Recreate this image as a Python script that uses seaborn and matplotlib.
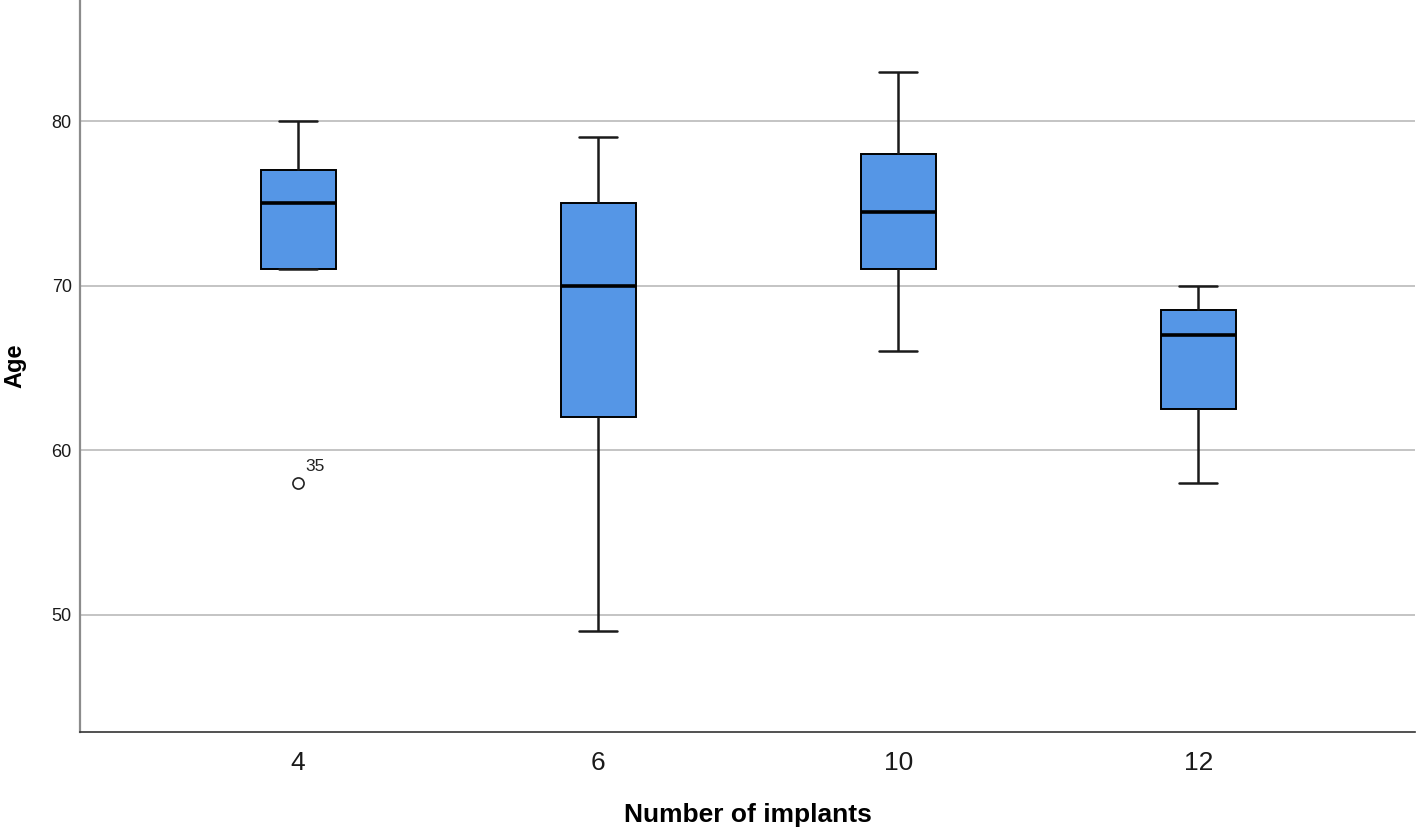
"""
Boxplot of patient age by number of implants (SPSS-style figure)
"""

import pandas as pd
import matplotlib.pyplot as plt
import seaborn as sns

# Values: each group's points (whisker ends, quartiles, median, outlier)
implants = ["4", "6", "10", "12"]
ages_4 = [58, 71, 71, 75, 77, 77, 80]
ages_6 = [49, 62, 70, 75, 79]
ages_10 = [66, 71, 74.5, 78, 83]
ages_12 = [58, 62.5, 67, 68.5, 70]
outlier_label = "35"
outlier_age = 58

groups = [ages_4, ages_6, ages_10, ages_12]
df = pd.DataFrame({
    "implants": [k for k, g in zip(implants, groups) for _ in g],
    "age": [v for g in groups for v in g],
})

sns.set_style("white")
plt.rcParams["font.family"] = ["Liberation Sans", "DejaVu Sans"]

fig = plt.figure(figsize=(14.18, 8.33), dpi=100)
ax = fig.add_axes([0.0564, 0.1213, 0.9416, 0.8787])

sns.boxplot(
    data=df, x="implants", y="age", order=implants, ax=ax,
    color="#5596E6", saturation=1, width=0.25, linewidth=1.4,
    linecolor="black", whis=1.5,
    medianprops=dict(linewidth=2.6, color="black"),
    whiskerprops=dict(linewidth=1.8, color="#1a1a1a"),
    capprops=dict(linewidth=1.8, color="#1a1a1a"),
    flierprops=dict(marker="o", markersize=8, markerfacecolor="white",
                    markeredgecolor="#222222", markeredgewidth=1.2),
)

# Label for the outlier case number
ax.annotate(outlier_label, xy=(0, outlier_age), xytext=(5.5, 8.5),
            textcoords="offset points", fontsize=12.5, color="#222222")

ax.set_xlim(-0.727, 3.723)
ax.set_ylim(42.89, 87.35)
ax.set_yticks([50, 60, 70, 80])

ax.yaxis.grid(True, color="#c4c4c4", linewidth=1.4)
ax.xaxis.grid(False)
ax.set_axisbelow(True)

for s in ["top", "right"]:
    ax.spines[s].set_visible(False)
ax.spines["left"].set_color("#8c8c8c")
ax.spines["left"].set_linewidth(1.6)
ax.spines["bottom"].set_color("#333333")
ax.spines["bottom"].set_linewidth(1.2)

ax.tick_params(axis="y", length=0, pad=6, labelsize=13, labelcolor="#1a1a1a")
ax.tick_params(axis="x", length=0, pad=14, labelsize=19, labelcolor="#1a1a1a")

ax.set_xlabel("Number of implants", fontsize=19, fontweight="bold",
              labelpad=20, color="black")
ax.set_ylabel("Age", fontsize=17, fontweight="bold", labelpad=18, color="black")

plt.savefig("out.png", dpi=100)
plt.close()
